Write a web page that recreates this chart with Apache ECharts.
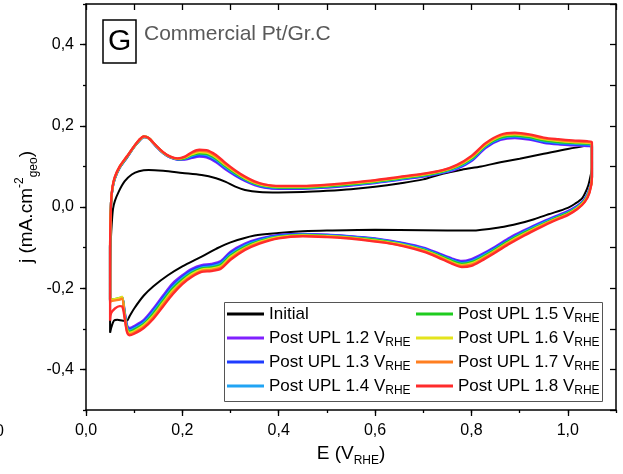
<!DOCTYPE html>
<html>
<head>
<meta charset="utf-8">
<script src="https://cdn.jsdelivr.net/npm/echarts@6/dist/echarts.min.js"></script>
<style>
  html, body { margin: 0; padding: 0; background: #ffffff; }
  #chart { width: 623px; height: 474px; }
</style>
</head>
<body>
<div id="chart"></div>
<script>
// Cyclic voltammograms of commercial Pt/Gr.C, E in V vs RHE, j in mA.cm-2 (geo)

// Initial CV: anodic sweep then cathodic sweep
const initialForwardE = [0.05, 0.05, 0.051, 0.053, 0.056, 0.06, 0.068, 0.08, 0.095, 0.11, 0.13, 0.16, 0.2, 0.24, 0.27, 0.29, 0.31, 0.33, 0.36, 0.4, 0.45, 0.5, 0.55, 0.6, 0.65, 0.7, 0.74, 0.78, 0.82, 0.86, 0.9, 0.95, 1.0, 1.05];
const initialForwardJ = [-0.31, -0.2, -0.1, -0.05, -0.005, 0.015, 0.038, 0.063, 0.08, 0.088, 0.091, 0.089, 0.084, 0.079, 0.071, 0.062, 0.05, 0.042, 0.037, 0.036, 0.037, 0.04, 0.044, 0.05, 0.058, 0.068, 0.082, 0.092, 0.1, 0.11, 0.119, 0.131, 0.143, 0.153];
const initialReverseE = [1.05, 1.05, 1.045, 1.04, 1.03, 1.015, 1.0, 0.96, 0.93, 0.9, 0.86, 0.8, 0.7, 0.6, 0.5, 0.45, 0.4, 0.35, 0.3, 0.27, 0.24, 0.2, 0.17, 0.14, 0.12, 0.1, 0.09, 0.085, 0.077, 0.065, 0.058, 0.053, 0.05];
const initialReverseJ = [0.153, 0.1, 0.065, 0.045, 0.022, 0.008, -0.002, -0.018, -0.03, -0.04, -0.05, -0.058, -0.057, -0.056, -0.058, -0.06, -0.064, -0.07, -0.087, -0.103, -0.122, -0.146, -0.168, -0.195, -0.218, -0.25, -0.27, -0.28, -0.28, -0.278, -0.28, -0.295, -0.31];

// Potential grid shared by the post-UPL voltammograms
const potentialForward = [0.05, 0.05, 0.052, 0.055, 0.06, 0.07, 0.085, 0.1, 0.11, 0.12, 0.13, 0.145, 0.16, 0.175, 0.19, 0.205, 0.22, 0.235, 0.25, 0.27, 0.29, 0.31, 0.33, 0.35, 0.37, 0.4, 0.45, 0.5, 0.55, 0.6, 0.65, 0.7, 0.74, 0.77, 0.8, 0.83, 0.86, 0.89, 0.92, 0.95, 0.98, 1.01, 1.04, 1.05];
const potentialReverse = [1.05, 1.05, 1.045, 1.035, 1.02, 1.0, 0.97, 0.94, 0.91, 0.88, 0.85, 0.82, 0.8, 0.78, 0.76, 0.73, 0.7, 0.66, 0.62, 0.58, 0.54, 0.5, 0.45, 0.4, 0.36, 0.33, 0.3, 0.28, 0.26, 0.24, 0.22, 0.2, 0.18, 0.16, 0.14, 0.12, 0.1, 0.09, 0.085, 0.08, 0.075, 0.07, 0.06, 0.052, 0.05];

// Current densities after each upper potential limit
const upl12Forward = [-0.23, -0.1, 0.01, 0.045, 0.07, 0.097, 0.122, 0.148, 0.162, 0.172, 0.169, 0.15, 0.133, 0.122, 0.117, 0.117, 0.121, 0.124, 0.122, 0.11, 0.092, 0.077, 0.064, 0.054, 0.048, 0.045, 0.045, 0.048, 0.053, 0.059, 0.067, 0.075, 0.084, 0.094, 0.113, 0.146, 0.165, 0.17, 0.166, 0.158, 0.154, 0.152, 0.15, 0.149];
const upl12Reverse = [0.149, 0.075, 0.045, 0.02, 0.003, -0.01, -0.025, -0.04, -0.057, -0.075, -0.097, -0.117, -0.128, -0.133, -0.127, -0.113, -0.1, -0.089, -0.081, -0.075, -0.071, -0.068, -0.066, -0.069, -0.078, -0.09, -0.11, -0.133, -0.14, -0.143, -0.152, -0.168, -0.188, -0.218, -0.25, -0.278, -0.293, -0.298, -0.29, -0.255, -0.222, -0.226, -0.228, -0.229, -0.23];

const upl13Forward = [-0.23, -0.1, 0.01, 0.046, 0.071, 0.097, 0.122, 0.148, 0.162, 0.172, 0.169, 0.15, 0.133, 0.122, 0.117, 0.118, 0.123, 0.127, 0.125, 0.113, 0.095, 0.079, 0.066, 0.056, 0.049, 0.046, 0.046, 0.049, 0.054, 0.06, 0.068, 0.076, 0.085, 0.096, 0.115, 0.148, 0.167, 0.172, 0.168, 0.16, 0.156, 0.154, 0.152, 0.151];
const upl13Reverse = [0.151, 0.074, 0.043, 0.019, 0.002, -0.012, -0.027, -0.042, -0.059, -0.078, -0.1, -0.12, -0.131, -0.136, -0.129, -0.115, -0.102, -0.09, -0.082, -0.076, -0.072, -0.069, -0.067, -0.07, -0.08, -0.093, -0.113, -0.136, -0.143, -0.146, -0.155, -0.172, -0.193, -0.223, -0.254, -0.281, -0.296, -0.301, -0.293, -0.258, -0.223, -0.226, -0.228, -0.229, -0.23];

const upl14Forward = [-0.23, -0.1, 0.01, 0.047, 0.072, 0.098, 0.123, 0.149, 0.163, 0.173, 0.169, 0.151, 0.134, 0.123, 0.118, 0.119, 0.126, 0.13, 0.128, 0.116, 0.097, 0.081, 0.068, 0.057, 0.051, 0.047, 0.047, 0.05, 0.055, 0.061, 0.069, 0.077, 0.086, 0.097, 0.117, 0.15, 0.169, 0.174, 0.17, 0.162, 0.158, 0.156, 0.154, 0.153];
const upl14Reverse = [0.153, 0.073, 0.042, 0.017, 0.0, -0.013, -0.028, -0.044, -0.061, -0.08, -0.102, -0.122, -0.134, -0.138, -0.131, -0.117, -0.103, -0.092, -0.083, -0.077, -0.073, -0.07, -0.068, -0.072, -0.082, -0.095, -0.117, -0.139, -0.146, -0.149, -0.159, -0.175, -0.197, -0.227, -0.258, -0.285, -0.299, -0.304, -0.296, -0.261, -0.224, -0.227, -0.228, -0.229, -0.23];

const upl15Forward = [-0.228, -0.1, 0.01, 0.047, 0.072, 0.098, 0.123, 0.149, 0.163, 0.173, 0.17, 0.151, 0.134, 0.123, 0.118, 0.12, 0.128, 0.132, 0.131, 0.119, 0.1, 0.083, 0.069, 0.058, 0.052, 0.048, 0.048, 0.051, 0.056, 0.062, 0.07, 0.078, 0.087, 0.099, 0.119, 0.152, 0.171, 0.176, 0.172, 0.164, 0.16, 0.158, 0.156, 0.154];
const upl15Reverse = [0.154, 0.072, 0.04, 0.016, -0.001, -0.015, -0.03, -0.046, -0.063, -0.082, -0.104, -0.125, -0.136, -0.14, -0.133, -0.118, -0.105, -0.093, -0.084, -0.078, -0.074, -0.071, -0.069, -0.073, -0.084, -0.098, -0.12, -0.142, -0.149, -0.151, -0.162, -0.179, -0.201, -0.231, -0.262, -0.288, -0.302, -0.307, -0.299, -0.263, -0.222, -0.224, -0.227, -0.228, -0.228];

const upl16Forward = [-0.228, -0.1, 0.01, 0.048, 0.073, 0.099, 0.124, 0.149, 0.164, 0.173, 0.17, 0.151, 0.134, 0.123, 0.119, 0.122, 0.13, 0.135, 0.134, 0.122, 0.103, 0.086, 0.071, 0.06, 0.053, 0.05, 0.05, 0.053, 0.058, 0.064, 0.072, 0.08, 0.089, 0.101, 0.122, 0.154, 0.174, 0.179, 0.175, 0.167, 0.163, 0.16, 0.158, 0.156];
const upl16Reverse = [0.156, 0.072, 0.038, 0.015, -0.002, -0.017, -0.032, -0.048, -0.066, -0.085, -0.107, -0.128, -0.139, -0.143, -0.136, -0.12, -0.107, -0.094, -0.086, -0.08, -0.075, -0.072, -0.07, -0.074, -0.086, -0.101, -0.123, -0.146, -0.152, -0.154, -0.165, -0.183, -0.206, -0.236, -0.267, -0.291, -0.306, -0.31, -0.302, -0.266, -0.221, -0.224, -0.227, -0.228, -0.228];

const upl17Forward = [-0.235, -0.1, 0.01, 0.049, 0.074, 0.1, 0.125, 0.15, 0.165, 0.174, 0.17, 0.152, 0.135, 0.124, 0.119, 0.123, 0.133, 0.138, 0.137, 0.125, 0.105, 0.088, 0.073, 0.061, 0.055, 0.051, 0.051, 0.054, 0.059, 0.065, 0.073, 0.081, 0.09, 0.102, 0.124, 0.156, 0.176, 0.181, 0.177, 0.169, 0.165, 0.162, 0.16, 0.158];
const upl17Reverse = [0.158, 0.071, 0.037, 0.013, -0.004, -0.018, -0.033, -0.05, -0.068, -0.087, -0.109, -0.13, -0.142, -0.145, -0.138, -0.122, -0.108, -0.096, -0.087, -0.081, -0.076, -0.073, -0.071, -0.076, -0.088, -0.103, -0.127, -0.149, -0.155, -0.157, -0.169, -0.186, -0.21, -0.24, -0.271, -0.295, -0.309, -0.313, -0.305, -0.269, -0.225, -0.228, -0.23, -0.232, -0.235];

const upl18Forward = [-0.28, -0.1, 0.01, 0.05, 0.075, 0.1, 0.125, 0.15, 0.165, 0.174, 0.17, 0.152, 0.135, 0.124, 0.12, 0.124, 0.135, 0.141, 0.14, 0.128, 0.108, 0.09, 0.075, 0.063, 0.056, 0.052, 0.052, 0.055, 0.06, 0.066, 0.074, 0.082, 0.091, 0.104, 0.126, 0.158, 0.178, 0.183, 0.179, 0.171, 0.167, 0.164, 0.162, 0.16];
const upl18Reverse = [0.16, 0.07, 0.035, 0.012, -0.005, -0.02, -0.035, -0.052, -0.07, -0.09, -0.112, -0.133, -0.145, -0.148, -0.14, -0.124, -0.11, -0.097, -0.088, -0.082, -0.077, -0.074, -0.072, -0.077, -0.09, -0.106, -0.13, -0.152, -0.158, -0.16, -0.172, -0.19, -0.215, -0.245, -0.275, -0.298, -0.312, -0.316, -0.308, -0.272, -0.245, -0.244, -0.25, -0.262, -0.28];

const seriesNames = ['Initial', 'Post UPL 1.2', 'Post UPL 1.3', 'Post UPL 1.4', 'Post UPL 1.5', 'Post UPL 1.6', 'Post UPL 1.7', 'Post UPL 1.8'];
const seriesColors = ['#000000', '#8020ff', '#1f3cff', '#20a4f4', '#1fcc1f', '#e4e41c', '#ff7f20', '#ff2b2b'];

// Axis tick label values
const xTickLabels = [0, 0.2, 0.4, 0.6, 0.8, 1.0];
const yTickLabels = [-0.4, -0.2, 0, 0.2, 0.4];

const FONT = "'Liberation Sans', Arial, sans-serif";

function zipLoop(eF, jF, eR, jR) {
  const pts = [];
  for (let i = 0; i < eF.length; i++) pts.push([eF[i], jF[i]]);
  for (let i = 0; i < eR.length; i++) pts.push([eR[i], jR[i]]);
  return pts;
}

const loops = [
  zipLoop(initialForwardE, initialForwardJ, initialReverseE, initialReverseJ),
  zipLoop(potentialForward, upl12Forward, potentialReverse, upl12Reverse),
  zipLoop(potentialForward, upl13Forward, potentialReverse, upl13Reverse),
  zipLoop(potentialForward, upl14Forward, potentialReverse, upl14Reverse),
  zipLoop(potentialForward, upl15Forward, potentialReverse, upl15Reverse),
  zipLoop(potentialForward, upl16Forward, potentialReverse, upl16Reverse),
  zipLoop(potentialForward, upl17Forward, potentialReverse, upl17Reverse),
  zipLoop(potentialForward, upl18Forward, potentialReverse, upl18Reverse)
];

const commaFmt = v => v.toFixed(1).replace('.', ',');
const frameLine = { show: true, onZero: false, lineStyle: { color: '#000', width: 1.5 } };
const tickStyle = { color: '#000', width: 1.3 };

const legendText = {
  color: '#000', fontFamily: FONT, fontSize: 17, lineHeight: 22,
  rich: {
    t: { fontFamily: FONT, fontSize: 17, lineHeight: 22, color: '#000' },
    s: { fontFamily: FONT, fontSize: 12, lineHeight: 12, verticalAlign: 'bottom', color: '#000' }
  }
};
const legendFormatter = name => name === 'Initial' ? '{t|Initial}' : '{t|' + name + ' V}{s|RHE}';

const chart = echarts.init(document.getElementById('chart'), null, { renderer: 'canvas' });

chart.setOption({
  animation: false,
  backgroundColor: '#ffffff',
  title: [
    {
      text: 'G', left: 103, top: 20, padding: [5, 5, 4, 5],
      borderColor: '#000', borderWidth: 1.5,
      textStyle: { fontFamily: FONT, fontSize: 30, fontWeight: 'normal', color: '#000', lineHeight: 34 }
    },
    {
      text: 'Commercial Pt/Gr.C', left: 144, top: 22, padding: 0,
      textStyle: { fontFamily: FONT, fontSize: 21, fontWeight: 'normal', color: '#595959', lineHeight: 24 }
    }
  ],
  grid: [
    { left: 86, right: 7, top: 4, bottom: 64 },
    { left: 86, right: 55.18, top: 4, bottom: 64 },
    { left: 86, right: 7, top: 44.6, bottom: 104.6 }
  ],
  xAxis: [
    {
      gridIndex: 0, type: 'value', min: 0, max: 1.1, interval: 0.1, position: 'bottom',
      axisLine: frameLine, axisTick: { show: true, inside: false, length: 3, lineStyle: tickStyle },
      axisLabel: { show: false }, splitLine: { show: false },
      name: '{n|E (V}{s|RHE}{n|)}', nameLocation: 'middle', nameGap: 31,
      nameTextStyle: {
        fontFamily: FONT, color: '#000',
        rich: {
          n: { fontFamily: FONT, fontSize: 19, lineHeight: 26, color: '#000' },
          s: { fontFamily: FONT, fontSize: 12, lineHeight: 14, verticalAlign: 'bottom', color: '#000' }
        }
      }
    },
    {
      gridIndex: 0, type: 'value', min: 0, max: 1.1, interval: 0.1, position: 'top',
      axisLine: frameLine, axisTick: { show: true, inside: true, length: 6, lineStyle: tickStyle },
      axisLabel: { show: false }, splitLine: { show: false }
    },
    {
      gridIndex: 1, type: 'value', min: 0, max: 1.0, interval: 0.2, position: 'bottom',
      axisLine: { show: false, onZero: false },
      axisTick: { show: true, inside: false, length: 6, lineStyle: tickStyle },
      axisLabel: {
        show: true, margin: 13, fontFamily: FONT, fontSize: 16, color: '#000',
        formatter: v => xTickLabels.some(t => Math.abs(t - v) < 1e-6) ? commaFmt(v) : ''
      },
      splitLine: { show: false }
    },
    { gridIndex: 2, type: 'value', min: 0, max: 1.1, show: false }
  ],
  yAxis: [
    {
      gridIndex: 0, type: 'value', min: -0.5, max: 0.5, interval: 0.1, position: 'left',
      axisLine: frameLine, axisTick: { show: true, inside: false, length: 3, lineStyle: tickStyle },
      axisLabel: { show: false }, splitLine: { show: false },
      name: '{n|j (mA.cm}{p|-2}{b|geo}{n|)}', nameLocation: 'middle', nameGap: 46,
      nameTextStyle: {
        fontFamily: FONT, color: '#000',
        rich: {
          n: { fontFamily: FONT, fontSize: 19, lineHeight: 26, color: '#000' },
          p: { fontFamily: FONT, fontSize: 12, lineHeight: 11, verticalAlign: 'top', color: '#000' },
          b: { fontFamily: FONT, fontSize: 12, lineHeight: 14, verticalAlign: 'bottom', color: '#000' }
        }
      }
    },
    {
      gridIndex: 0, type: 'value', min: -0.5, max: 0.5, interval: 0.1, position: 'right',
      axisLine: frameLine, axisTick: { show: true, inside: true, length: 6, lineStyle: tickStyle },
      axisLabel: { show: false }, splitLine: { show: false }
    },
    { gridIndex: 1, type: 'value', min: -0.5, max: 0.5, show: false },
    {
      gridIndex: 2, type: 'value', min: -0.4, max: 0.4, interval: 0.2, position: 'left',
      axisLine: { show: false, onZero: false },
      axisTick: { show: true, inside: false, length: 6, lineStyle: tickStyle },
      axisLabel: {
        show: true, margin: 12, fontFamily: FONT, fontSize: 16, color: '#000',
        formatter: v => yTickLabels.some(t => Math.abs(t - v) < 1e-6) ? commaFmt(v) : ''
      },
      splitLine: { show: false }
    }
  ],
  legend: [
    {
      data: seriesNames.slice(0, 4), orient: 'vertical', left: 227, top: 303, padding: 0,
      itemWidth: 37, itemHeight: 3, itemGap: 2, icon: 'rect', selectedMode: false,
      formatter: legendFormatter, textStyle: legendText
    },
    {
      data: seriesNames.slice(4), orient: 'vertical', left: 416, top: 303, padding: 0,
      itemWidth: 37, itemHeight: 3, itemGap: 2, icon: 'rect', selectedMode: false,
      formatter: legendFormatter, textStyle: legendText
    }
  ],
  graphic: [
    {
      type: 'rect', left: 224, top: 302, z: 0,
      shape: { width: 378, height: 99 },
      style: { fill: '#ffffff', stroke: '#555555', lineWidth: 1 }
    },
    {
      type: 'text', x: -5, y: 424,
      style: { text: '0', fontFamily: FONT, fontSize: 16, fill: '#000' }
    }
  ],
  series: seriesNames.map((name, i) => ({
    name: name,
    type: 'line',
    xAxisIndex: 0,
    yAxisIndex: 0,
    data: loops[i],
    showSymbol: false,
    symbol: 'none',
    smooth: 0.3,
    color: seriesColors[i],
    lineStyle: { color: seriesColors[i], width: i === 0 ? 2 : 2.3 },
    z: 2 + i
  }))
});
</script>
</body>
</html>
